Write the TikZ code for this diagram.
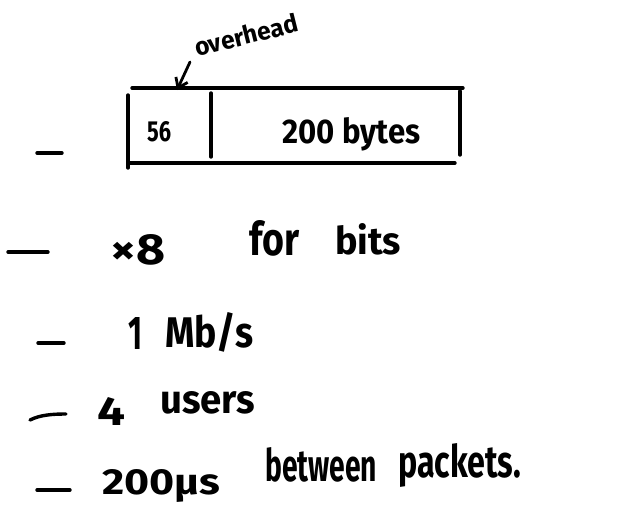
\documentclass[tikz,border=0pt]{standalone}
\usepackage{fontspec}
\usepackage{graphicx}
\setmainfont{Fira Sans}
\usetikzlibrary{arrows.meta}
% a word squeezed into a given width and height above its baseline
\newcommand\handword[3]{\resizebox{#1pt}{#2pt}{#3}}
\begin{document}
\begin{tikzpicture}[x=1pt,y=-1pt,
  ink/.style={line width=3.4pt,line cap=round,black},
  hand/.style={font=\fontsize{30}{34}\selectfont\bfseries,inner sep=0pt,anchor=base west}]
\useasboundingbox (0,0) rectangle (635,504);
% packet frame
\coordinate (tl) at (132,88);  \coordinate (tr) at (463,88);
\coordinate (bl) at (128,163); \coordinate (br) at (455,163);
\draw[ink] (tl) -- (tr);
\draw[ink] (bl) -- (br);
\draw[ink] (128,95) -- (128,168);
\draw[ink] (211,93) -- (211,157);
\draw[ink] (460,91) -- (460,155);
\node[hand] (hdr) at (147,141) {\handword{24}{20}{56}};
\node[hand] (pay) at (282,143) {\handword{138}{26}{200 bytes}};
% overhead label with arrow
\node[hand,rotate=14] (ovh) at (197,57) {\handword{106}{19}{overhead}};
\coordinate (tail) at (190,62);
\coordinate (tip) at (177,90);
\draw[ink,line width=2.8pt,-{Straight Barb[length=9pt,width=13pt]}] (tail) -- (tip);
% list bullets
\coordinate (d0a) at (37,153); \coordinate (d0b) at (62,153);
\coordinate (d1a) at (8,252);  \coordinate (d1b) at (48,252);
\coordinate (d2a) at (38,343); \coordinate (d2b) at (64,343);
\coordinate (d3a) at (30,420); \coordinate (d3b) at (66,414);
\coordinate (d4a) at (37,490); \coordinate (d4b) at (70,490);
\foreach \a/\b in {d0a/d0b,d1a/d1b,d2a/d2b,d4a/d4b}
  \draw[ink] (\a) -- (\b);
\draw[ink] (d3a) .. controls (40,415) and (52,414) .. (d3b);
% list entries
\node[hand] (times) at (110,264) {\handword{55}{30}{×8}};
\node[hand] (for) at (249,255) {\handword{50}{35}{for}};
\node[hand] (bits) at (335,254) {\handword{66}{31}{bits}};
\node[hand] (one) at (128,349) {\handword{14}{32}{1}};
\node[hand] (mbs) at (165,347) {\handword{88}{35}{Mb/s}};
\node[hand] (four) at (97,425) {\handword{28}{28}{4}};
\node[hand] (users) at (160,413) {\handword{95}{22}{users}};
\node[hand] (gap) at (102,494) {\handword{118}{25}{200µs}};
\node[hand] (betw) at (265,481) {\handword{112}{34}{between}};
\node[hand] (pkts) at (398,477) {\handword{123}{34}{packets.}};
\end{tikzpicture}
\end{document}
